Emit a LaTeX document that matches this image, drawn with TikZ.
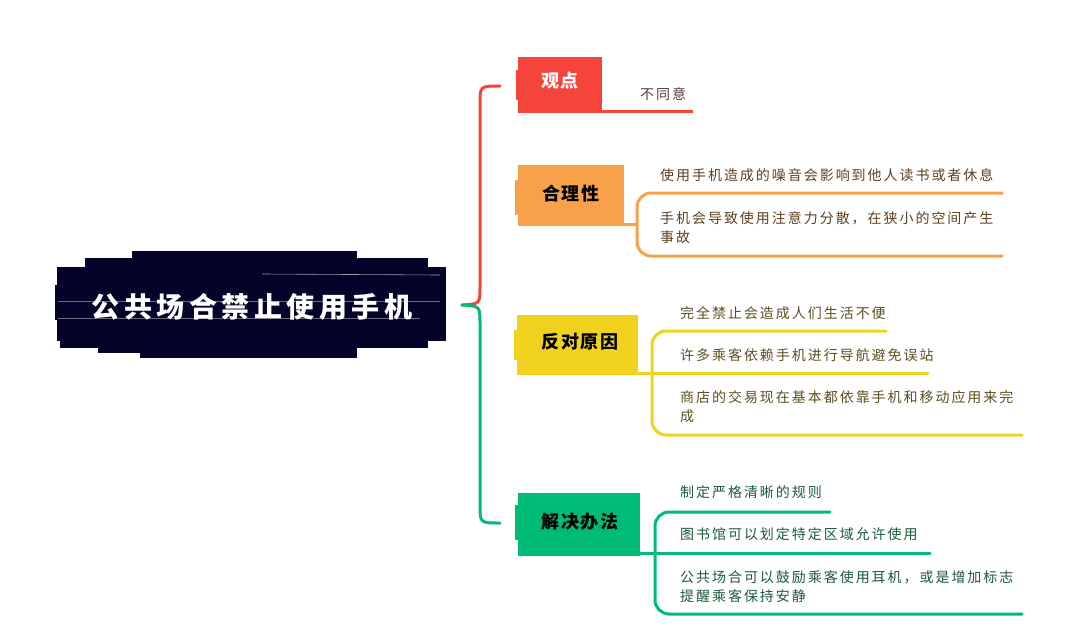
\documentclass[tikz,border=0pt]{standalone}
\usepackage{fontspec}
\setmainfont{Noto Sans CJK SC}
\newfontfamily\titlef[LetterSpace=16]{Noto Sans CJK SC}
\newfontfamily\boxf[LetterSpace=8]{Noto Sans CJK SC}
\newfontfamily\subf[LetterSpace=14]{Noto Sans CJK SC}
\definecolor{cRed}{HTML}{F5443B}
\definecolor{cOra}{HTML}{F7A24B}
\definecolor{cYel}{HTML}{F0D21E}
\definecolor{cGrn}{HTML}{00BA78}
\definecolor{cNavy}{HTML}{04042A}
\definecolor{tRed}{HTML}{5C3A3A}
\definecolor{tOra}{HTML}{5E4020}
\definecolor{tYel}{HTML}{5C5020}
\definecolor{tGrn}{HTML}{1E5A3C}
\tikzset{
  conn/.style={line width=3pt, line cap=round},
  lab/.style={font=\boxf\bfseries\fontsize{18}{20}\selectfont, inner sep=0pt},
  subt/.style={font=\subf\fontsize{14}{19}\selectfont, anchor=west, align=left, inner sep=0pt},
}
\begin{document}
\begin{tikzpicture}[x=1pt,y=-1pt]
\useasboundingbox[fill=white] (0,0) rectangle (1080,627);
% ---- root brush box
\fill[cNavy] (57,267) rectangle (446,341);
\fill[cNavy] (85,258) rectangle (428,268);
\fill[cNavy] (132,251) rectangle (357,259);
\fill[cNavy] (60,340) rectangle (428,348);
\fill[cNavy] (98,347) rectangle (357,353);
\fill[cNavy] (140,352) rectangle (357,358);
\fill[cNavy] (55,285) rectangle (60,320);
\draw[white!60!cNavy, line width=0.6pt] (262,274) -- (440,275);
\draw[white!40!cNavy, line width=0.5pt] (58,301) -- (440,301);
\draw[white!40!cNavy, line width=0.5pt] (58,318) -- (420,318);
\node[font=\titlef\bfseries\fontsize{28}{32}\selectfont, text=white, inner sep=0pt] (root) at (252,307) {公共场合禁止使用手机};
\coordinate (rootR) at (462,305);
% ---- 观点
\fill[cRed] (518,57) rectangle (602,112);
\fill[cRed] (516,70) rectangle (520,100);
\node[lab, text=white] (gd) at (560,81) {观点};
\coordinate (gdIn) at (500,86);
\draw[conn, cRed] (rootR) .. controls (480,304) .. (480,286) -- (480,104) .. controls (480,86) .. (gdIn);
\coordinate (gdL) at (518,111);
\coordinate (gdR) at (693,111);
\draw[conn, cRed, line cap=butt] (gdL) -- (gdR);
\node[subt, text=tRed] (g1) at (640,94) {不同意};
% ---- 合理性
\fill[cOra] (518,165) rectangle (624,226);
\fill[cOra] (515,180) rectangle (520,215);
\node[lab] (hl) at (571,194) {合理性};
\coordinate (hlJ) at (637,224);
\draw[conn, cOra, line cap=butt] (518,224) -- (hlJ);
\coordinate (hlA) at (1002,193);
\coordinate (hlB) at (1002,256);
\draw[conn, cOra, rounded corners=14pt] (hlA) -- (637,193) -- (637,256) -- (hlB);
\node[subt, text=tOra] (h1) at (660,175) {使用手机造成的噪音会影响到他人读书或者休息};
\node[subt, text=tOra] (h2) at (660,228) {手机会导致使用注意力分散，在狭小的空间产生\\事故};
% ---- 反对原因
\fill[cYel] (517,315) rectangle (638,374);
\fill[cYel] (514,330) rectangle (519,360);
\node[lab] (fd) at (580,342) {反对原因};
\coordinate (fdJ) at (652,373);
\draw[conn, cYel, line cap=butt] (517,373) -- (fdJ);
\coordinate (fdA) at (886,331);
\coordinate (fdB) at (928,373);
\coordinate (fdC) at (1022,435);
\draw[conn, cYel, rounded corners=14pt] (fdA) -- (652,331) -- (652,435) -- (fdC);
\draw[conn, cYel] (fdJ) -- (fdB);
\node[subt, text=tYel] (f1) at (680,313) {完全禁止会造成人们生活不便};
\node[subt, text=tYel] (f2) at (680,355) {许多乘客依赖手机进行导航避免误站};
\node[subt, text=tYel] (f3) at (680,407) {商店的交易现在基本都依靠手机和移动应用来完\\成};
% ---- 解决办法
\fill[cGrn] (518,493) rectangle (640,556);
\fill[cGrn] (515,505) rectangle (520,540);
\node[lab] (jj) at (580,522) {解决办法};
\coordinate (jjIn) at (500,523);
\draw[conn, cGrn] (rootR) .. controls (480,306) .. (480,324) -- (480,505) .. controls (480,523) .. (jjIn);
\coordinate (jjJ) at (655,553);
\draw[conn, cGrn, line cap=butt] (518,553) -- (jjJ);
\coordinate (jjA) at (830,512);
\coordinate (jjB) at (930,553);
\coordinate (jjC) at (1022,614);
\draw[conn, cGrn, rounded corners=14pt] (jjA) -- (655,512) -- (655,614) -- (jjC);
\draw[conn, cGrn] (jjJ) -- (jjB);
\node[subt, text=tGrn] (j1) at (680,492) {制定严格清晰的规则};
\node[subt, text=tGrn] (j2) at (680,534) {图书馆可以划定特定区域允许使用};
\node[subt, text=tGrn] (j3) at (680,587) {公共场合可以鼓励乘客使用耳机，或是增加标志\\提醒乘客保持安静};
\end{tikzpicture}
\end{document}
